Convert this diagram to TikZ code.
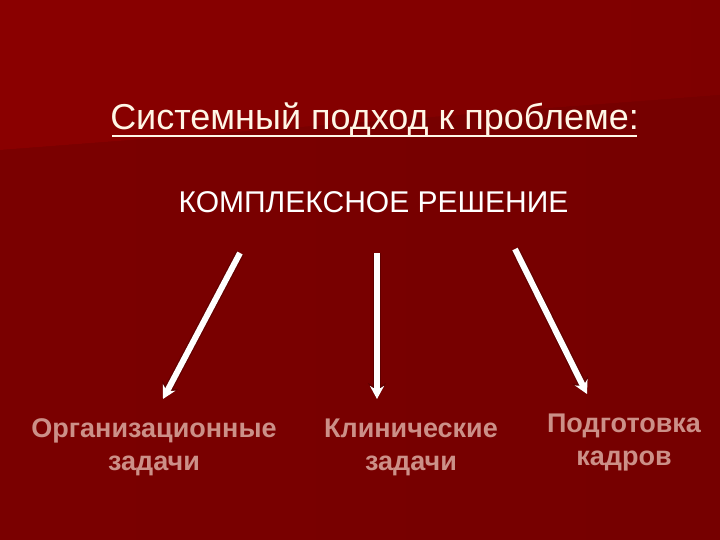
\documentclass[tikz,border=0pt]{standalone}
\usepackage{fontspec}
\setmainfont{Liberation Sans}
\usetikzlibrary{arrows.meta}
\definecolor{bgdark}{HTML}{760000}
\definecolor{bgmid}{HTML}{7E0000}
\definecolor{bglight}{HTML}{8A0000}
\definecolor{titlecol}{HTML}{FFF6E6}
\definecolor{labcol}{HTML}{CC9088}
\definecolor{shadowcol}{HTML}{4A0000}
\tikzset{
  heading/.style={text=titlecol, font=\fontsize{36}{40}\selectfont, inner sep=0pt, anchor=base},
  subhead/.style={text=white, font=\fontsize{30}{34}\selectfont, inner sep=0pt, anchor=base},
  lab/.style={text=labcol, font=\bfseries\fontsize{27}{33}\selectfont, align=center, inner sep=0pt},
  arrowedge/.style={draw=shadowcol, line width=8.5pt, -{Stealth[length=16pt,width=18pt]}},
  arrowbody/.style={draw=white, line width=6pt, -{Stealth[length=13pt,width=14pt]}},
}
\begin{document}
\begin{tikzpicture}[x=1pt,y=-1pt]
\useasboundingbox (0,0) rectangle (720,540);
\fill[bgdark] (0,0) rectangle (720,540);
\shade[left color=bglight, right color=bgmid] (0,0) -- (720,0) -- (720,95) -- (0,150) -- cycle;
\shade[left color=bgmid, right color=bgdark, opacity=0.6] (0,150) -- (720,95) -- (720,540) -- (0,540) -- cycle;
% title
\node[heading] (title) at (374.5,130) {Системный подход к проблеме:};
\draw[titlecol, line width=1.6pt] (112,136) -- (637,136);
\node[subhead] (sub) at (373.5,213) {КОМПЛЕКСНОЕ РЕШЕНИЕ};
% labels
\node[lab] (t1) at (154,447) {Организационные\\задачи};
\node[lab] (t2) at (411,447) {Клинические\\задачи};
\node[lab] (t3) at (624,443) {Подготовка\\кадров};
% arrows
\coordinate (s1) at (240,253);
\coordinate (e1) at (163,399);
\coordinate (s2) at (377,253);
\coordinate (e2) at (377,399);
\coordinate (s3) at (515,249);
\coordinate (e3) at (587,394);
\foreach \s/\e in {s1/e1,s2/e2,s3/e3}{
  \draw[arrowedge, opacity=0.5] (\s) -- (\e);
  \draw[arrowbody] (\s) -- (\e);
}
\end{tikzpicture}
\end{document}
